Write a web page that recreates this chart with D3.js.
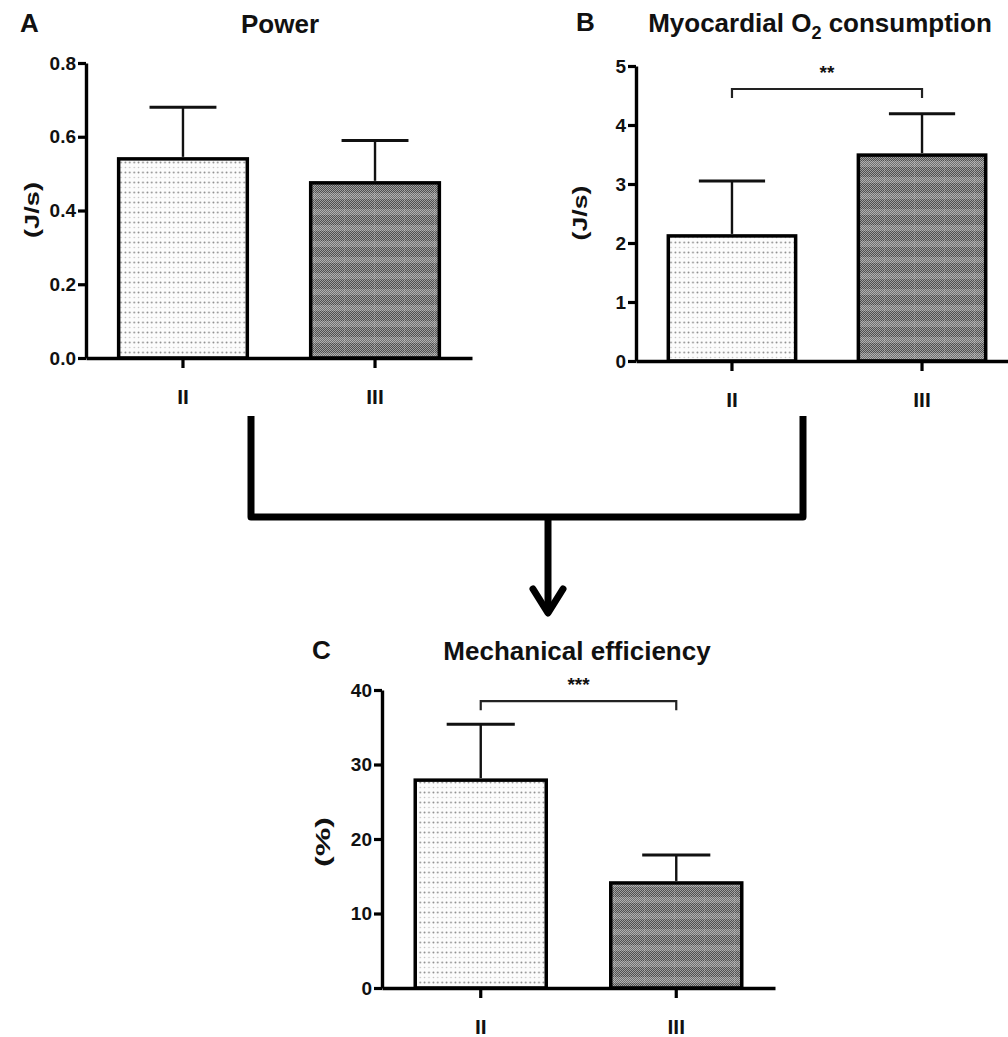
<!DOCTYPE html>
<html>
<head>
<meta charset="utf-8">
<script src="https://cdn.jsdelivr.net/npm/d3@7"></script>
<style>
    body {margin: 0; background: #fff;}
    svg text {font-family: "Liberation Sans", Arial, sans-serif; font-weight: bold; fill: #111;}
</style>
</head>
<body>
<div id="chart"></div>
<script>
// data
const groups = ["II", "III"];

const powerMean = [0.54, 0.475];
const powerErr = [0.14, 0.115];
const powerTicks = [0, 0.2, 0.4, 0.6, 0.8];

const mvo2Mean = [2.12, 3.49];
const mvo2Err = [0.93, 0.70];
const mvo2Ticks = [0, 1, 2, 3, 4, 5];

const effMean = [27.9, 14.1];
const effErr = [7.5, 3.75];
const effTicks = [0, 10, 20, 30, 40];

const width = 1008, height = 1037;

const svg = d3.select("#chart")
    .append("svg")
    .attr("width", width)
    .attr("height", height);

const defs = svg.append("defs");

// light dotted fill (group II)
const dots = defs.append("pattern")
    .attr("id", "dots")
    .attr("patternUnits", "userSpaceOnUse")
    .attr("width", 4.4)
    .attr("height", 10);
dots.append("rect").attr("width", 4.4).attr("height", 10).attr("fill", "#fcfcfc");
dots.append("circle").attr("cx", 2.2).attr("cy", 2.5).attr("r", 0.9).attr("fill", "#8a8a8a");
dots.append("circle").attr("cx", 2.2).attr("cy", 7.5).attr("r", 0.75).attr("fill", "#c0c0c0");

// dark checker with lighter bands (group III)
const checker = defs.append("pattern")
    .attr("id", "checker")
    .attr("patternUnits", "userSpaceOnUse")
    .attr("width", 2)
    .attr("height", 2);
checker.append("rect").attr("width", 2).attr("height", 2).attr("fill", "#505050");
checker.append("rect").attr("width", 1).attr("height", 1).attr("fill", "#a0a0a0");
checker.append("rect").attr("x", 1).attr("y", 1).attr("width", 1).attr("height", 1).attr("fill", "#a0a0a0");

const bands = defs.append("pattern")
    .attr("id", "bands")
    .attr("patternUnits", "userSpaceOnUse")
    .attr("width", 30)
    .attr("height", 16);
bands.append("rect").attr("width", 30).attr("height", 16).attr("fill", "url(#checker)");
bands.append("rect").attr("y", 1).attr("width", 30).attr("height", 6).attr("fill", "#fff").attr("opacity", 0.18);
bands.append("rect").attr("x", 14).attr("width", 1).attr("height", 16).attr("fill", "#fff").attr("opacity", 0.12);

const fills = ["url(#dots)", "url(#bands)"];

function drawPanel(p) {
    const g = svg.append("g");

    const x = d3.scaleBand()
        .domain(groups)
        .range([p.x0, p.x1])
        .paddingInner(0.33)
        .paddingOuter(0.17);

    const y = d3.scaleLinear()
        .domain(p.domain)
        .range([p.yBot, p.yTop]);

    const rows = groups.map((k, i) => ({key: k, mean: p.mean[i], err: p.err[i], i: i}));

    // bars
    g.selectAll(".bar")
        .data(rows)
        .enter()
        .append("rect")
        .attr("x", d => x(d.key))
        .attr("y", d => y(d.mean))
        .attr("width", x.bandwidth())
        .attr("height", d => y(0) - y(d.mean))
        .attr("fill", d => fills[d.i])
        .attr("stroke", "#000")
        .attr("stroke-width", 3.5);

    // error bars (upper only)
    const cap = x.bandwidth() * 0.26;
    const eb = g.selectAll(".err")
        .data(rows)
        .enter()
        .append("g")
        .attr("stroke", "#111");
    eb.append("line")
        .attr("x1", d => x(d.key) + x.bandwidth() / 2)
        .attr("x2", d => x(d.key) + x.bandwidth() / 2)
        .attr("y1", d => y(d.mean) - 2)
        .attr("y2", d => y(d.mean + d.err))
        .attr("stroke-width", 2.4);
    eb.append("line")
        .attr("x1", d => x(d.key) + x.bandwidth() / 2 - cap)
        .attr("x2", d => x(d.key) + x.bandwidth() / 2 + cap)
        .attr("y1", d => y(d.mean + d.err))
        .attr("y2", d => y(d.mean + d.err))
        .attr("stroke-width", 3);

    // y axis
    const yAxis = g.append("g")
        .attr("transform", `translate(${p.x0},0)`)
        .call(d3.axisLeft(y).tickValues(p.ticks).tickFormat(p.fmt).tickSize(8).tickSizeOuter(0).tickPadding(2));
    yAxis.select(".domain").attr("stroke-width", 3.4).attr("stroke", "#000");
    yAxis.selectAll(".tick line").attr("stroke-width", 3.2).attr("stroke", "#000");
    yAxis.selectAll(".tick text").attr("font-size", "19px").attr("fill", "#222");

    // x axis
    const xAxis = g.append("g")
        .attr("transform", `translate(0,${y(0)})`)
        .call(d3.axisBottom(x).tickSize(10).tickSizeOuter(0).tickPadding(21));
    xAxis.select(".domain").attr("stroke-width", 3.6).attr("stroke", "#000");
    xAxis.selectAll(".tick line").attr("stroke-width", 3.2).attr("stroke", "#000");
    xAxis.selectAll(".tick text").attr("font-size", "21px").attr("fill", "#111");

    // y label
    g.append("text")
        .attr("transform", `translate(${p.labelX},${p.labelY}) rotate(-90)`)
        .attr("text-anchor", "middle")
        .attr("dy", "0.35em")
        .attr("font-size", "20px")
        .attr("textLength", p.labelLen)
        .attr("lengthAdjust", "spacingAndGlyphs")
        .text(p.label);

    // title + panel letter
    const t = g.append("text")
        .attr("x", p.titleX)
        .attr("y", p.titleY)
        .attr("text-anchor", "middle")
        .attr("font-size", "26px");
    p.title.forEach(part => {
        const s = t.append("tspan").text(part.text);
        if (part.sub) s.attr("font-size", "18px").attr("dy", 7);
        if (part.after) s.attr("dy", -7);
    });

    g.append("text")
        .attr("x", p.letterX)
        .attr("y", p.titleY - 1)
        .attr("font-size", "26px")
        .text(p.letter);

    // significance bracket
    if (p.sig) {
        const cx = rows.map(d => x(d.key) + x.bandwidth() / 2);
        const yb = y(p.sig.level);
        g.append("path")
            .attr("d", `M${cx[0]},${yb + 9}V${yb}H${cx[1]}V${yb + 9}`)
            .attr("fill", "none")
            .attr("stroke", "#222")
            .attr("stroke-width", 2.2);
        g.append("text")
            .attr("x", (cx[0] + cx[1]) / 2)
            .attr("y", yb - 10)
            .attr("text-anchor", "middle")
            .attr("font-size", "19px")
            .attr("fill", "#333")
            .text(p.sig.text);
    }
}

drawPanel({
    letter: "A", letterX: 20, titleX: 280, titleY: 33,
    title: [{text: "Power"}],
    x0: 86, x1: 472, yTop: 63, yBot: 358,
    domain: [0, 0.8], ticks: powerTicks, fmt: d3.format(".1f"),
    mean: powerMean, err: powerErr,
    label: "(J/s)", labelX: 32, labelY: 210, labelLen: 56
});

drawPanel({
    letter: "B", letterX: 576, titleX: 820, titleY: 32,
    title: [{text: "Myocardial O"}, {text: "2", sub: true}, {text: " consumption", after: true}],
    x0: 636, x1: 1018, yTop: 66, yBot: 361,
    domain: [0, 5], ticks: mvo2Ticks, fmt: d3.format("d"),
    mean: mvo2Mean, err: mvo2Err,
    label: "(J/s)", labelX: 580, labelY: 213, labelLen: 55,
    sig: {level: 4.61, text: "**"}
});

drawPanel({
    letter: "C", letterX: 312, titleX: 577, titleY: 660,
    title: [{text: "Mechanical efficiency"}],
    x0: 382, x1: 775, yTop: 690, yBot: 988,
    domain: [0, 40], ticks: effTicks, fmt: d3.format("d"),
    mean: effMean, err: effErr,
    label: "(%)", labelX: 323, labelY: 842, labelLen: 50,
    sig: {level: 38.5, text: "***"}
});

// connector from A and B down to C
const conn = svg.append("g")
    .attr("fill", "none")
    .attr("stroke", "#000")
    .attr("stroke-width", 7)
    .attr("stroke-linejoin", "round");
conn.append("path").attr("d", "M251,416V517H803V416");
conn.append("path").attr("d", "M548,517V612");
conn.append("path").attr("d", "M533,589L548,613L563,589").attr("stroke-linecap", "round");
</script>
</body>
</html>
